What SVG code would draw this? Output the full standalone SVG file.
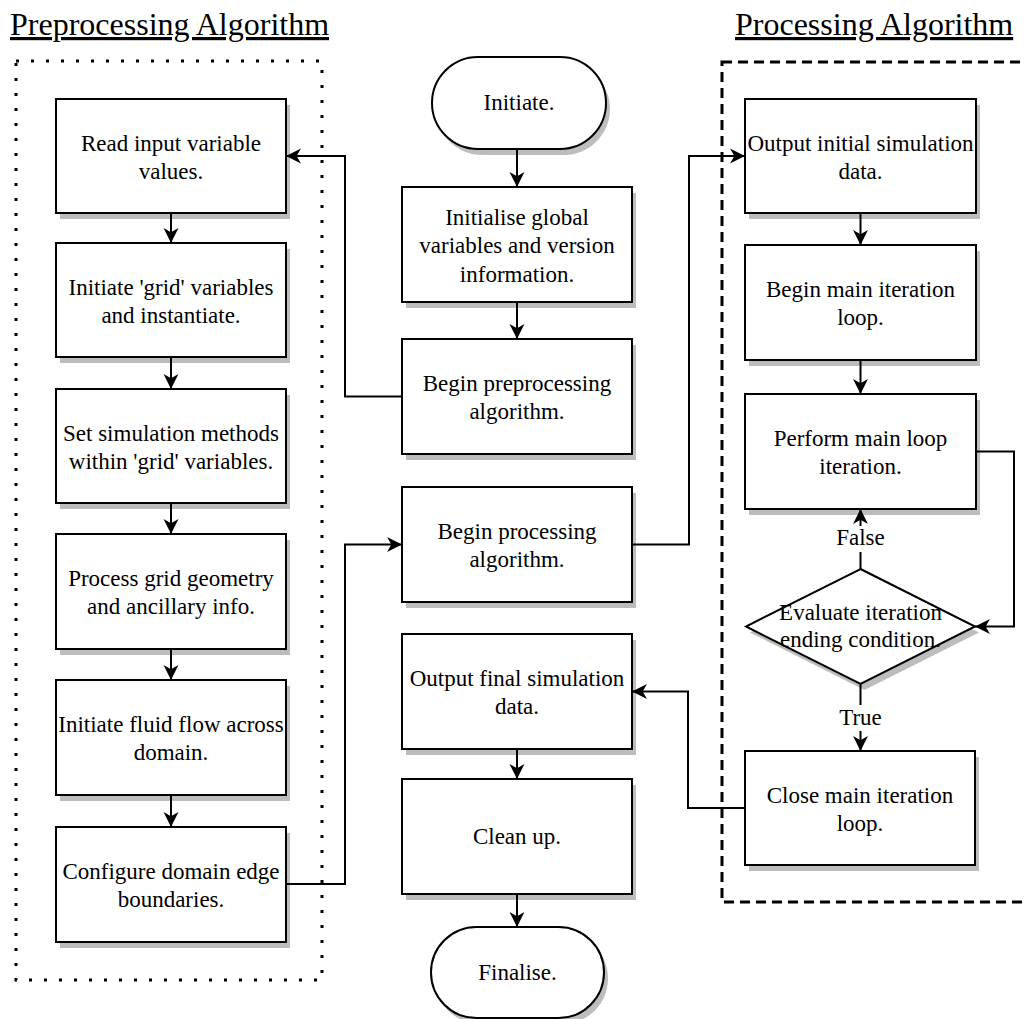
<svg xmlns="http://www.w3.org/2000/svg" width="1024" height="1019" viewBox="0 0 1024 1019">
<style>
.box{fill:#fff;stroke:#000;stroke-width:2}
.t{font-family:"Liberation Serif","Times New Roman",serif;font-size:23px;fill:#000;text-anchor:middle}
.title{font-family:"Liberation Serif","Times New Roman",serif;font-size:32px;fill:#000;text-decoration:underline}
.c{fill:none;stroke:#000;stroke-width:2}
.lbl{fill:#fff;stroke:none}
</style>
<defs>
<marker id="arr" markerUnits="userSpaceOnUse" markerWidth="16" markerHeight="16" viewBox="0 0 15 14" refX="14" refY="7" orient="auto">
<path d="M0,0 L14,7 L0,14 L4,7 Z" fill="#000"/>
</marker>
</defs>
<rect width="1024" height="1019" fill="#fff"/>

<g id="titles">
<text class="title" x="10" y="35">Preprocessing Algorithm</text>
<text class="title" x="735" y="35">Processing Algorithm</text>
</g>

<g id="containers">
<rect x="16" y="61" width="306" height="919" fill="none" stroke="#000" stroke-width="3" stroke-dasharray="3 12"/>
<rect x="722" y="62" width="330" height="840" fill="none" stroke="#000" stroke-width="3" stroke-dasharray="10 6"/>
</g>

<g id="shadows" fill="#bdbdbd" stroke="none">
<rect x="60" y="105" width="230" height="114"/>
<rect x="60" y="249" width="230" height="114"/>
<rect x="60" y="395" width="230" height="114"/>
<rect x="60" y="540" width="230" height="115"/>
<rect x="60" y="686" width="230" height="115"/>
<rect x="60" y="833" width="230" height="115"/>
<rect x="436" y="63" width="174" height="92" rx="46" ry="46"/>
<rect x="406" y="193" width="230" height="115"/>
<rect x="406" y="345" width="230" height="115"/>
<rect x="406" y="493" width="230" height="115"/>
<rect x="406" y="640" width="230" height="115"/>
<rect x="406" y="785" width="230" height="115"/>
<rect x="435" y="933" width="173" height="91" rx="45.5" ry="45.5"/>
<rect x="749" y="105" width="231" height="114"/>
<rect x="749" y="251" width="231" height="115"/>
<rect x="749" y="400" width="231" height="115"/>
<polygon points="864.5,575 979,632.5 864.5,690 750,632.5"/>
<rect x="749" y="757" width="230" height="114"/>
</g>

<g id="connectors">
<line class="c" x1="171" y1="213" x2="171" y2="243" marker-end="url(#arr)"/>
<line class="c" x1="171" y1="357" x2="171" y2="389" marker-end="url(#arr)"/>
<line class="c" x1="171" y1="503" x2="171" y2="534" marker-end="url(#arr)"/>
<line class="c" x1="171" y1="649" x2="171" y2="680" marker-end="url(#arr)"/>
<line class="c" x1="171" y1="795" x2="171" y2="827" marker-end="url(#arr)"/>
<line class="c" x1="517" y1="149" x2="517" y2="187" marker-end="url(#arr)"/>
<line class="c" x1="517" y1="302" x2="517" y2="339" marker-end="url(#arr)"/>
<line class="c" x1="517" y1="749" x2="517" y2="779" marker-end="url(#arr)"/>
<line class="c" x1="517" y1="894" x2="517" y2="927" marker-end="url(#arr)"/>
<line class="c" x1="860.5" y1="213" x2="860.5" y2="245" marker-end="url(#arr)"/>
<line class="c" x1="860.5" y1="360" x2="860.5" y2="394" marker-end="url(#arr)"/>
<line class="c" x1="860.5" y1="569" x2="860.5" y2="509" marker-end="url(#arr)"/>
<line class="c" x1="860.5" y1="684" x2="860.5" y2="751" marker-end="url(#arr)"/>
<polyline class="c" points="976,451.5 1014,451.5 1014,626.5 975,626.5" marker-end="url(#arr)"/>
<polyline class="c" points="402,396.5 345,396.5 345,156 286,156" marker-end="url(#arr)"/>
<polyline class="c" points="286,884 345,884 345,544.5 402,544.5" marker-end="url(#arr)"/>
<polyline class="c" points="632,544.5 689,544.5 689,156 745,156" marker-end="url(#arr)"/>
<polyline class="c" points="745,808 688,808 688,691.5 632,691.5" marker-end="url(#arr)"/>
<rect class="lbl" x="836" y="526" width="50" height="26"/>
<text class="t" x="860.5" y="545">False</text>
<rect class="lbl" x="840" y="705" width="42" height="26"/>
<text class="t" x="860.5" y="725">True</text>
</g>

<g id="n-read">
<rect class="box" x="56" y="99" width="230" height="114"/>
<text class="t" x="171" y="151">Read input variable</text>
<text class="t" x="171" y="179">values.</text>
</g>
<g id="n-grid">
<rect class="box" x="56" y="243" width="230" height="114"/>
<text class="t" x="171" y="295">Initiate 'grid' variables</text>
<text class="t" x="171" y="323">and instantiate.</text>
</g>
<g id="n-methods">
<rect class="box" x="56" y="389" width="230" height="114"/>
<text class="t" x="171" y="441">Set simulation methods</text>
<text class="t" x="171" y="469">within 'grid' variables.</text>
</g>
<g id="n-geometry">
<rect class="box" x="56" y="534" width="230" height="115"/>
<text class="t" x="171" y="586">Process grid geometry</text>
<text class="t" x="171" y="614">and ancillary info.</text>
</g>
<g id="n-fluid">
<rect class="box" x="56" y="680" width="230" height="115"/>
<text class="t" x="171" y="732">Initiate fluid flow across</text>
<text class="t" x="171" y="760">domain.</text>
</g>
<g id="n-boundaries">
<rect class="box" x="56" y="827" width="230" height="115"/>
<text class="t" x="171" y="879">Configure domain edge</text>
<text class="t" x="171" y="907">boundaries.</text>
</g>

<g id="n-initiate">
<rect class="box" x="432" y="57" width="174" height="92" rx="46" ry="46"/>
<text class="t" x="519" y="110">Initiate.</text>
</g>
<g id="n-initialise">
<rect class="box" x="402" y="187" width="230" height="115"/>
<text class="t" x="517" y="225">Initialise global</text>
<text class="t" x="517" y="253">variables and version</text>
<text class="t" x="517" y="282">information.</text>
</g>
<g id="n-begin-pre">
<rect class="box" x="402" y="339" width="230" height="115"/>
<text class="t" x="517" y="391">Begin preprocessing</text>
<text class="t" x="517" y="419">algorithm.</text>
</g>
<g id="n-begin-proc">
<rect class="box" x="402" y="487" width="230" height="115"/>
<text class="t" x="517" y="539">Begin processing</text>
<text class="t" x="517" y="567">algorithm.</text>
</g>
<g id="n-output-final">
<rect class="box" x="402" y="634" width="230" height="115"/>
<text class="t" x="517" y="686">Output final simulation</text>
<text class="t" x="517" y="714">data.</text>
</g>
<g id="n-cleanup">
<rect class="box" x="402" y="779" width="230" height="115"/>
<text class="t" x="517" y="844">Clean up.</text>
</g>
<g id="n-finalise">
<rect class="box" x="431" y="927" width="173" height="91" rx="45.5" ry="45.5"/>
<text class="t" x="517.5" y="980">Finalise.</text>
</g>

<g id="n-output-initial">
<rect class="box" x="745" y="99" width="231" height="114"/>
<text class="t" x="860.5" y="151">Output initial simulation</text>
<text class="t" x="860.5" y="179">data.</text>
</g>
<g id="n-begin-loop">
<rect class="box" x="745" y="245" width="231" height="115"/>
<text class="t" x="860.5" y="297">Begin main iteration</text>
<text class="t" x="860.5" y="325">loop.</text>
</g>
<g id="n-perform">
<rect class="box" x="745" y="394" width="231" height="115"/>
<text class="t" x="860.5" y="446">Perform main loop</text>
<text class="t" x="860.5" y="474">iteration.</text>
</g>
<g id="n-evaluate">
<polygon class="box" points="860.5,569 975,626.5 860.5,684 746,626.5"/>
<text class="t" x="860.5" y="620">Evaluate iteration</text>
<text class="t" x="860.5" y="647">ending condition.</text>
</g>
<g id="n-close">
<rect class="box" x="745" y="751" width="230" height="114"/>
<text class="t" x="860" y="803">Close main iteration</text>
<text class="t" x="860" y="831">loop.</text>
</g>
</svg>
